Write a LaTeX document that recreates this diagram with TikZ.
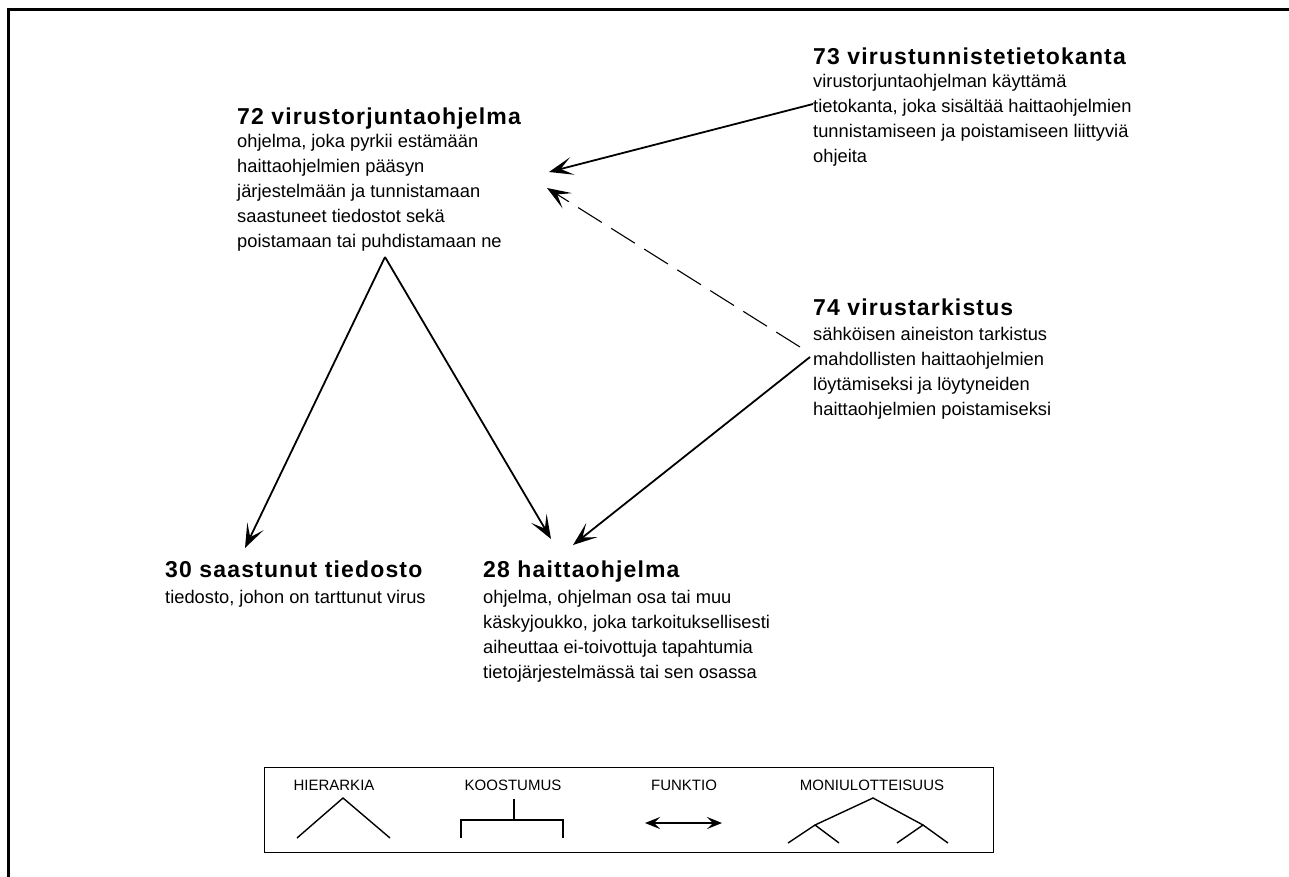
\documentclass[tikz,border=0pt]{standalone}
\usepackage{fontspec}
\setmainfont{Liberation Sans}
\newfontfamily\headfont[LetterSpace=5]{Liberation Sans Bold}
\usetikzlibrary{arrows.meta}

\tikzset{
  term/.style={anchor=base west, inner sep=0pt, font=\headfont\fontsize{23}{25}\selectfont},
  gloss/.style={anchor=base west, inner sep=0pt, font=\fontsize{18.3}{25}\selectfont},
  head/.style={-{Stealth[length=24pt,width=18pt,inset=12pt]}},
  link/.style={line width=1.8pt, head},
  weaklink/.style={line width=1.1pt, dash pattern=on 28pt off 11pt, head},
  legendlabel/.style={anchor=base, inner sep=0pt, font=\fontsize{15}{17}\selectfont},
  symbol/.style={line width=1.4pt}
}

\begin{document}
\begin{tikzpicture}[x=1pt,y=-1pt]
\useasboundingbox (0,0) rectangle (1289,877);

% frame
\draw[line width=3pt] (8,877) -- (8,10) -- (1289,10);

% concepts
\node[term] (t72) at (237,125) {72 virustorjuntaohjelma};
\node[gloss] (g72) at (237,148) {\vtop{\hbox{ohjelma, joka pyrkii estämään}\hbox{haittaohjelmien pääsyn}\hbox{järjestelmään ja tunnistamaan}\hbox{saastuneet tiedostot sekä}\hbox{poistamaan tai puhdistamaan ne}}};

\node[term] (t73) at (813,65) {73 virustunnistetietokanta};
\node[gloss] (g73) at (813,88) {\vtop{\hbox{virustorjuntaohjelman käyttämä}\hbox{tietokanta, joka sisältää haittaohjelmien}\hbox{tunnistamiseen ja poistamiseen liittyviä}\hbox{ohjeita}}};

\node[term] (t74) at (813,315) {74 virustarkistus};
\node[gloss] (g74) at (813,340) {\vtop{\hbox{sähköisen aineiston tarkistus}\hbox{mahdollisten haittaohjelmien}\hbox{löytämiseksi ja löytyneiden}\hbox{haittaohjelmien poistamiseksi}}};

\node[term] (t30) at (165,577) {30 saastunut tiedosto};
\node[gloss] (g30) at (165,603) {tiedosto, johon on tarttunut virus};

\node[term] (t28) at (483,577) {28 haittaohjelma};
\node[gloss] (g28) at (483,603) {\vtop{\hbox{ohjelma, ohjelman osa tai muu}\hbox{käskyjoukko, joka tarkoituksellisesti}\hbox{aiheuttaa ei-toivottuja tapahtumia}\hbox{tietojärjestelmässä tai sen osassa}}};

% connector ends
\coordinate (h72) at (385,257);
\coordinate (in72a) at (549,172);
\coordinate (in72b) at (547,188);
\coordinate (out73) at (813,104);
\coordinate (out74a) at (800,347);
\coordinate (out74b) at (810,357);
\coordinate (in30) at (245,548);
\coordinate (in28a) at (551,539);
\coordinate (in28b) at (573,545);

% relations
\draw[link] (out73) -- (in72a);
\draw[weaklink] (out74a) -- (in72b);
\draw[link] (out74b) -- (in28b);
\draw[link] (h72) -- (in30);
\draw[link] (h72) -- (in28a);

% legend
\node[draw, line width=1.4pt, inner sep=0pt, minimum width=729pt, minimum height=85pt, anchor=north west] (legend) at (264,767) {};
\node[legendlabel] (lh) at (334,790) {HIERARKIA};
\node[legendlabel] (lk) at (513,790) {KOOSTUMUS};
\node[legendlabel] (lf) at (684,790) {FUNKTIO};
\node[legendlabel] (lm) at (872,790) {MONIULOTTEISUUS};

\draw[symbol] (297,838) -- (343,798) -- (390,838);
\draw[symbol] (514,799) -- (514,820);
\draw[symbol] (461,838) -- (461,820) -- (563,820) -- (563,838);
\draw[line width=1.2pt, {Stealth[length=15pt,width=12pt,inset=6pt]}-{Stealth[length=15pt,width=12pt,inset=6pt]}] (645,823) -- (722,823);
\draw[symbol] (815,825) -- (873,798) -- (923,825);
\draw[symbol] (788,843) -- (815,825) -- (839,843);
\draw[symbol] (897,843) -- (923,825) -- (948,843);
\end{tikzpicture}
\end{document}
